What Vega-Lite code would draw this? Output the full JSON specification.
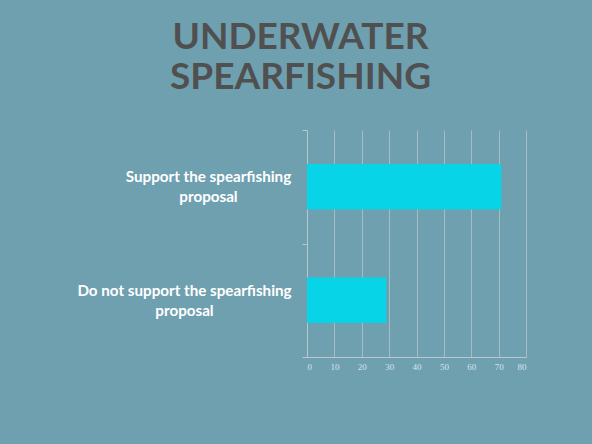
{
  "$schema": "https://vega.github.io/schema/vega-lite/v6.json",
  "width": 219,
  "height": 227,
  "autosize": "none",
  "padding": {"left": 307, "top": 130, "right": 66, "bottom": 87},
  "background": "#6FA0B0",
  "title": {
    "text": ["UNDERWATER", "SPEARFISHING"],
    "anchor": "middle",
    "frame": "group",
    "font": "Lato",
    "fontWeight": "bold",
    "fontSize": 37,
    "lineHeight": 40,
    "color": "#505050",
    "offset": 26,
    "dx": -116
  },
  "data": {
    "values": [
      {"response": "Support the spearfishing proposal", "percent": 71},
      {"response": "Do not support the spearfishing proposal", "percent": 29}
    ]
  },
  "mark": {"type": "bar", "color": "#08D4E8", "height": {"band": 0.4}},
  "encoding": {
    "y": {
      "field": "response",
      "type": "nominal",
      "sort": null,
      "scale": {"paddingInner": 0, "paddingOuter": 0},
      "axis": {
        "title": null,
        "tickBand": "extent",
        "tickSize": 5,
        "tickColor": "#B8C8CE",
        "domainColor": "#B8C8CE",
        "labelExpr": "datum.value == null ? '' : [replace(datum.label, ' proposal', ''), 'proposal']",
        "labelAlign": "center",
        "labelPadding": {"expr": "indexof(datum.value + '', 'Do not') >= 0 ? 118 : 94"},
        "labelOffset": -10,
        "labelLimit": 0,
        "labelFont": "Lato",
        "labelFontWeight": "bold",
        "labelFontSize": 15.2,
        "labelLineHeight": 20,
        "labelColor": "#FFFFFF",
        "labelBaseline": "middle"
      }
    },
    "x": {
      "field": "percent",
      "type": "quantitative",
      "scale": {"domain": [0, 80]},
      "axis": {
        "title": null,
        "values": [0, 10, 20, 30, 40, 50, 60, 70, 80],
        "ticks": false,
        "labelPadding": 5,
        "labelFont": "Liberation Serif",
        "labelFontSize": 9,
        "labelColor": "#D6E3E8",
        "domainColor": "#B8C8CE",
        "gridColor": "#B4C4CA",
        "gridOpacity": 0.8
      }
    }
  },
  "config": {"view": {"stroke": null}}
}
